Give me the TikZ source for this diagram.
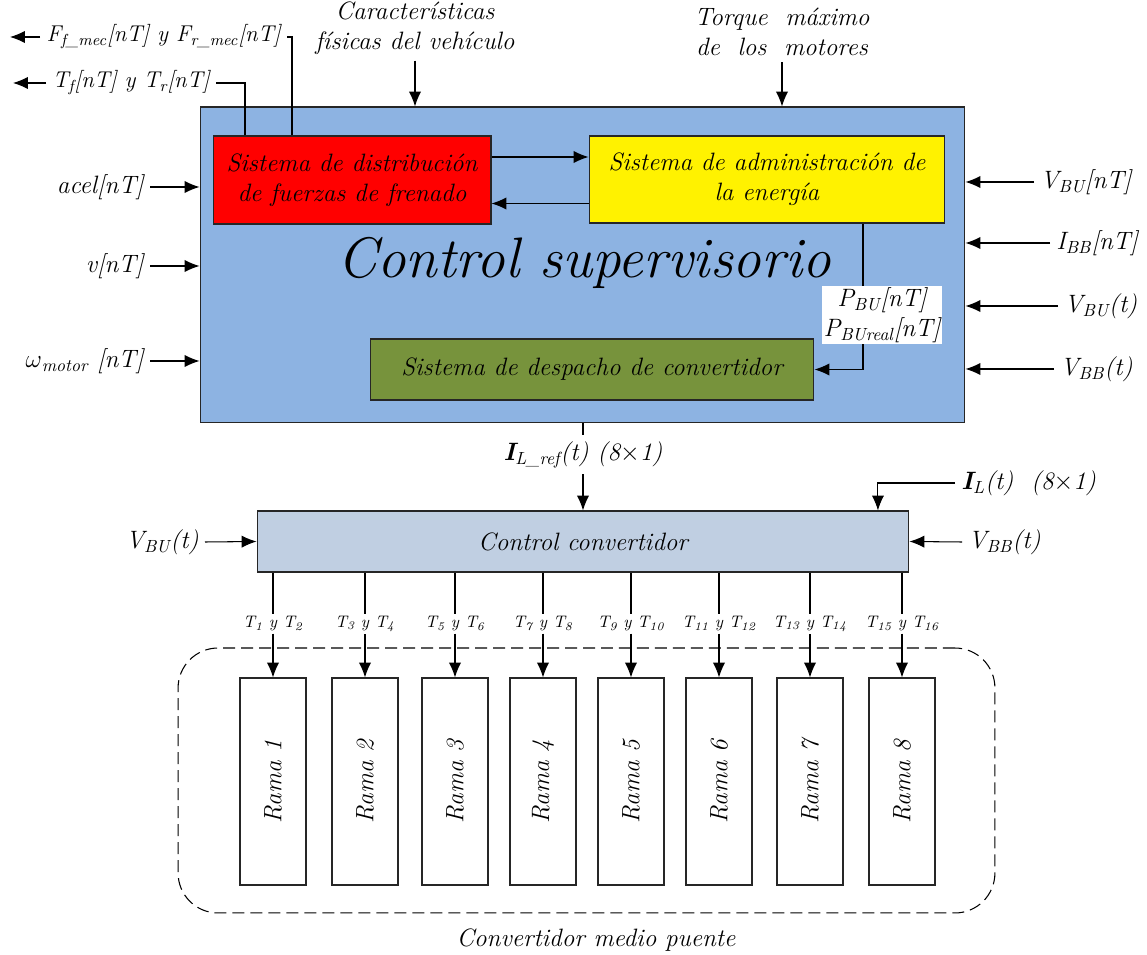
\documentclass[tikz,border=0pt]{standalone}
\usepackage{amsmath,amssymb}
\usepackage{xcolor}
\usepackage{tikz}
\usetikzlibrary{arrows.meta,positioning,calc}
\definecolor{supblue}{RGB}{141,179,226}
\definecolor{dispgreen}{RGB}{119,147,60}
\definecolor{convblue}{RGB}{192,207,226}
\begin{document}
\begin{tikzpicture}[x=0.02cm,y=-0.02cm,font=\fontsize{14.3}{17}\selectfont\itshape,>={Latex[length=8.5pt,width=7pt]},line width=0.6pt]
\tikzstyle{blk}=[draw=black!85,align=center,inner sep=2pt]
\tikzstyle{rama}=[draw=black!85,rotate=90,minimum width=4.14cm,minimum height=1.32cm]
\tikzstyle{lbl}=[fill=white,inner sep=1pt,font=\fontsize{9.5}{11}\selectfont\itshape]
\tikzstyle{outl}=[font=\fontsize{13}{15}\selectfont\itshape]
\useasboundingbox (0,0) rectangle (1147,955);
\node[blk,fill=supblue,minimum width=15.3cm,minimum height=6.32cm] (sup) at (582.5,265) {};
\node[font=\fontsize{32.5}{38}\selectfont\itshape] (suptxt) at (584,263) {Control supervisorio};
\node[blk,fill=red,minimum width=5.56cm,minimum height=1.76cm] (dist) at (352,180) {Sistema de distribución\\de fuerzas de frenado};
\node[blk,fill=yellow,minimum width=7.12cm,minimum height=1.74cm] (admin) at (767,179.5) {Sistema de administración de\\la energía};
\node[blk,fill=dispgreen,minimum width=8.88cm,minimum height=1.22cm] (desp) at (592,369.5) {Sistema de despacho de convertidor};
\draw[->] ([yshift=0.46cm]dist.east) -- ([yshift=0.46cm]dist.east -| admin.west);
\draw[->] ([yshift=-0.48cm]admin.west) -- ([yshift=-0.48cm]admin.west -| dist.east);
\draw[->] ([xshift=1.92cm]admin.south) |- (desp.east);
\node[fill=white,inner sep=1pt,align=center] (pbu) at (882,315) {P\textsubscript{BU}[nT]\\P\textsubscript{BUreal}[nT]};
\node[outl,anchor=east] (fftxt) at (287,37) {F\textsubscript{f\_mec}[nT] y F\textsubscript{r\_mec}[nT]};
\node[outl,anchor=east] (tftxt) at (216,83) {T\textsubscript{f}[nT] y T\textsubscript{r}[nT]};
\coordinate (ffout) at (10,37);
\coordinate (tfout) at (13,83);
\draw ([xshift=-1.2cm]dist.north) |- (fftxt.east);
\draw ([xshift=-2.14cm]dist.north) |- (tftxt.east);
\draw[->] (fftxt.west) -- (ffout);
\draw[->] (tftxt.west) -- (tfout);
\node[align=center] (carac) at (415,28) {Características\\físicas del vehículo};
\node[align=center] (torque) at (782,32) {Torque\ \ máximo\\de\ \ los\ \ motores};
\draw[->] (carac.south) -- (carac.south |- sup.north);
\draw[->] (torque.south) -- (torque.south |- sup.north);
\node[anchor=east] (acel) at (150,187) {acel[nT]};
\node[anchor=east] (vel) at (150,266) {v[nT]};
\node[anchor=east] (wmot) at (150,361) {$\omega$\textsubscript{motor} [nT]};
\foreach \n in {acel,vel,wmot}
  \draw[->] (\n.east) -- (\n.east -| sup.west);
\node[anchor=west] (vbun) at (1034,182) {V\textsubscript{BU}[nT]};
\node[anchor=west] (ibb) at (1050,243) {I\textsubscript{BB}[nT]};
\node[anchor=west] (vbut) at (1058,306) {V\textsubscript{BU}(t)};
\node[anchor=west] (vbbt) at (1054,369) {V\textsubscript{BB}(t)};
\foreach \n in {vbun,ibb,vbut,vbbt}
  \draw[->] (\n.west) -- (\n.west -| sup.east);
\node[blk,fill=convblue,minimum width=13.04cm,minimum height=1.22cm] (conv) at (583,541.5) {Control convertidor};
\node (ilref) at (583,455) {\textbf{I}\textsubscript{L\_ref}(t) (8$\times$1)};
\draw (sup.south -| ilref) -- (ilref.north);
\draw[->] (ilref.south) -- (ilref.south |- conv.north);
\node[anchor=west] (il) at (955,483) {\textbf{I}\textsubscript{L}(t)\ \ (8$\times$1)};
\draw[->] (il.west) -| ([xshift=5.9cm]conv.north);
\node[anchor=east] (vbu) at (205,542) {V\textsubscript{BU}(t)};
\node[anchor=west] (vbb) at (962,542) {V\textsubscript{BB}(t)};
\draw[->] (vbu.east) -- (conv.west);
\draw[->] (vbb.west) -- (conv.east);
\node[draw,dashed,dash pattern=on 0.24cm off 0.12cm,rounded corners=0.8cm,minimum width=16.34cm,minimum height=5.3cm] (hb) at (586.5,780.5) {};
\node (hbtxt) at (596,940) {Convertidor medio puente};
\foreach \i/\x in {1/273,2/365,3/455,4/543,5/631,6/719,7/810,8/902}{
  \pgfmathtruncatemacro{\a}{2*\i-1}
  \pgfmathtruncatemacro{\b}{2*\i}
  \node[rama] (r\i) at (\x,781.5) {Rama \i};
  \node[lbl] (t\i) at (\x,624) {T\textsubscript{\a} y T\textsubscript{\b}};
  \draw (conv.south -| t\i) -- (t\i.north);
  \draw[->] (t\i.south) -- (r\i.east);
}
\end{tikzpicture}
\end{document}
